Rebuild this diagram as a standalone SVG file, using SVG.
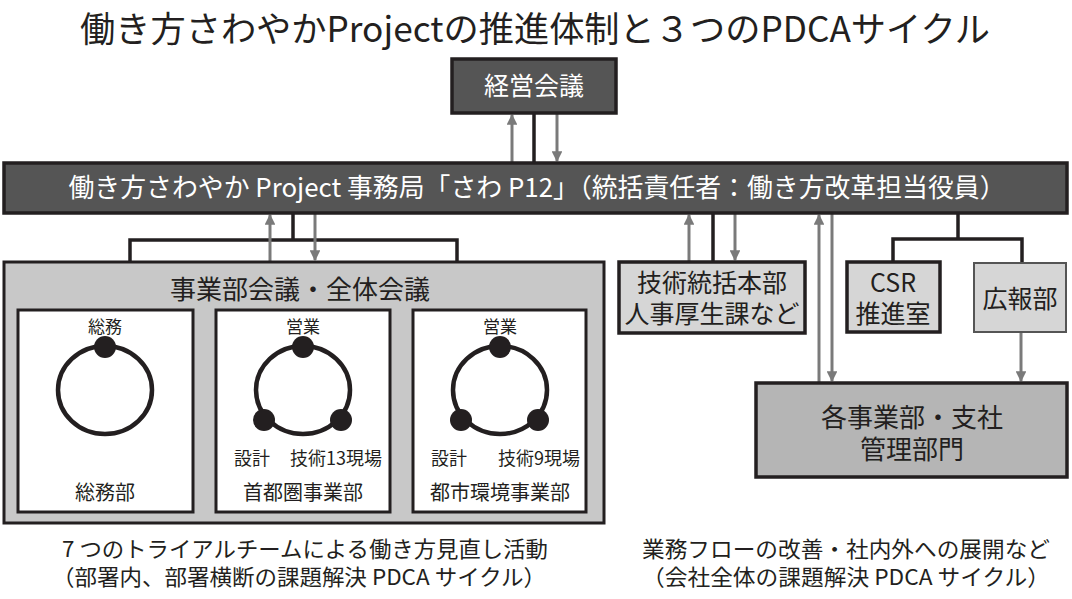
<svg xmlns="http://www.w3.org/2000/svg" width="1072" height="599" viewBox="0 0 1072 599">
<style>
text{font-family:"Noto Sans CJK JP","Noto Sans",sans-serif;text-anchor:middle}
.dark{fill:#555555;stroke:#231f20;stroke-width:3.5}
.light{fill:#d6d6d6;stroke:#231f20;stroke-width:3.5}
.mid{fill:#c8c8c8;stroke:#231f20;stroke-width:3}
.grey{fill:#b5b5b5;stroke:#231f20;stroke-width:3.5}
.white{fill:#ffffff;stroke:#231f20;stroke-width:3}
.wt{fill:#ffffff}
.bk{fill:#231f20}
.line{stroke:#231f20;stroke-width:3.5;fill:none}
.arr{stroke:#7a7a7a;stroke-width:3;fill:none;marker-end:url(#ah)}
.ring{fill:none;stroke:#231f20;stroke-width:4.5}
.dot{fill:#231f20}
</style>
<defs>
<marker id="ah" viewBox="0 0 10 10" refX="9" refY="5" markerWidth="3.6" markerHeight="3.6" orient="auto" markerUnits="strokeWidth">
<path d="M0,0 L10,5 L0,10 z" fill="#7a7a7a"/>
</marker>
</defs>

<text id="title" x="535" y="42" font-size="35" class="bk" textLength="910" lengthAdjust="spacingAndGlyphs">働き方さわやかProjectの推進体制と３つのPDCAサイクル</text>

<g id="connectors">
<line class="line" x1="534" y1="113" x2="534" y2="163"/>
<line class="arr" x1="512" y1="163" x2="512" y2="115"/>
<line class="arr" x1="557" y1="113" x2="557" y2="161"/>
<polyline class="line" points="293,213 293,240"/>
<polyline class="line" points="130,262 130,240 457,240 457,262"/>
<line class="arr" x1="270" y1="262" x2="270" y2="215"/>
<line class="arr" x1="315" y1="213" x2="315" y2="260"/>
<line class="line" x1="713" y1="213" x2="713" y2="262"/>
<line class="arr" x1="689" y1="262" x2="689" y2="215"/>
<line class="arr" x1="735" y1="213" x2="735" y2="260"/>
<line class="arr" x1="819" y1="383" x2="819" y2="215"/>
<line class="arr" x1="832" y1="213" x2="832" y2="381"/>
<polyline class="line" points="958,213 958,239"/>
<polyline class="line" points="893,262 893,239 1022,239 1022,263"/>
<line class="arr" x1="1021" y1="332" x2="1021" y2="381"/>
</g>

<g id="keiei">
<rect class="dark" x="452" y="59" width="164" height="54"/>
<text x="534" y="95" font-size="25" class="wt">経営会議</text>
</g>

<g id="jimukyoku">
<rect class="dark" x="4" y="163" width="1063" height="50"/>
<text x="537" y="197" font-size="26" class="wt" textLength="937" lengthAdjust="spacingAndGlyphs">働き方さわやか Project 事務局「さわ P12」（統括責任者：働き方改革担当役員）</text>
</g>

<g id="jigyobu-kaigi">
<rect class="mid" x="4" y="262" width="600" height="261"/>
<text x="300" y="299" font-size="26" class="bk">事業部会議・全体会議</text>
</g>

<g id="somubu">
<rect class="white" x="18" y="310" width="175" height="202"/>
<ellipse class="ring" cx="105" cy="390" rx="47" ry="44"/>
<circle class="dot" cx="105" cy="347" r="11"/>
<text x="105" y="333" font-size="17" class="bk">総務</text>
<text x="105" y="500" font-size="20" class="bk">総務部</text>
</g>

<g id="shutoken">
<rect class="white" x="216" y="310" width="174" height="202"/>
<ellipse class="ring" cx="303" cy="390" rx="47" ry="44"/>
<circle class="dot" cx="303" cy="347" r="11"/>
<circle class="dot" cx="264" cy="420" r="11"/>
<circle class="dot" cx="341" cy="420" r="11"/>
<text x="303" y="333" font-size="17" class="bk">営業</text>
<text x="252" y="465" font-size="18" class="bk">設計</text>
<text x="336" y="465" font-size="18" class="bk">技術13現場</text>
<text x="303" y="500" font-size="20" class="bk">首都圏事業部</text>
</g>

<g id="toshikankyo">
<rect class="white" x="413" y="310" width="173" height="202"/>
<ellipse class="ring" cx="500" cy="390" rx="47" ry="44"/>
<circle class="dot" cx="500" cy="347" r="11"/>
<circle class="dot" cx="461" cy="420" r="11"/>
<circle class="dot" cx="538" cy="420" r="11"/>
<text x="500" y="333" font-size="17" class="bk">営業</text>
<text x="449" y="465" font-size="18" class="bk">設計</text>
<text x="539" y="465" font-size="18" class="bk">技術9現場</text>
<text x="500" y="500" font-size="20" class="bk">都市環境事業部</text>
</g>

<g id="gijutsu">
<rect class="light" x="619" y="262" width="186" height="71"/>
<text font-size="25" class="bk"><tspan x="712" y="292">技術統括本部</tspan><tspan x="712" y="323">人事厚生課など</tspan></text>
</g>

<g id="csr">
<rect class="light" x="847" y="262" width="93" height="70"/>
<text font-size="25" class="bk"><tspan x="893" y="292">CSR</tspan><tspan x="893" y="323">推進室</tspan></text>
</g>

<g id="kohobu">
<rect x="974" y="263" width="92" height="69" fill="#d6d6d6" stroke="#555" stroke-width="2"/>
<text x="1020" y="308" font-size="25" class="bk">広報部</text>
</g>

<g id="kakujigyobu">
<rect class="grey" x="756" y="383" width="311" height="94"/>
<text font-size="26" class="bk"><tspan x="912" y="427">各事業部・支社</tspan><tspan x="912" y="459">管理部門</tspan></text>
</g>

<g id="caption-left">
<text font-size="22" class="bk"><tspan x="305" y="557" textLength="486" lengthAdjust="spacingAndGlyphs">7 つのトライアルチームによる働き方見直し活動</tspan><tspan x="299" y="585" textLength="494" lengthAdjust="spacingAndGlyphs">（部署内、部署横断の課題解決 PDCA サイクル）</tspan></text>
</g>

<g id="caption-right">
<text font-size="22" class="bk"><tspan x="846" y="557" textLength="408" lengthAdjust="spacingAndGlyphs">業務フローの改善・社内外への展開など</tspan><tspan x="846" y="585" textLength="408" lengthAdjust="spacingAndGlyphs">（会社全体の課題解決 PDCA サイクル）</tspan></text>
</g>
</svg>
